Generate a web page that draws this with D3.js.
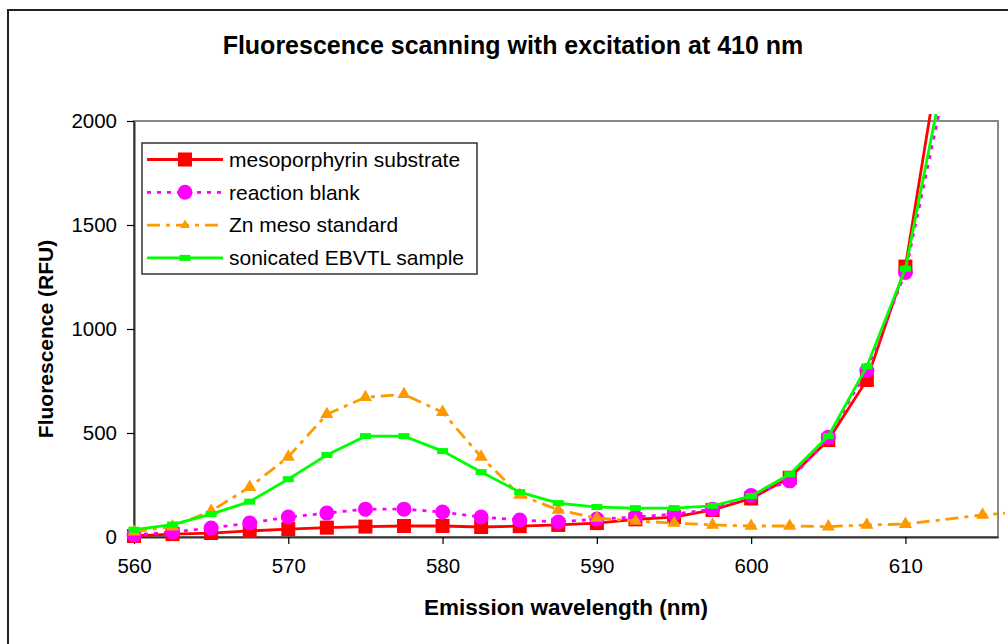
<!DOCTYPE html>
<html>
<head>
<meta charset="utf-8">
<script src="https://cdn.jsdelivr.net/npm/d3@7"></script>
<style>
  body { margin: 0; background: #fff; }
  svg { display: block; font-family: "Liberation Sans", Arial, sans-serif; }
</style>
</head>
<body>
<svg id="chart" width="1008" height="644"></svg>
<script>
"use strict";

// wavelengths (nm), 2.5 nm steps
const wavelengths = [560, 562.5, 565, 567.5, 570, 572.5, 575, 577.5, 580, 582.5, 585, 587.5, 590,
   592.5, 595, 597.5, 600, 602.5, 605, 607.5, 610, 612.5, 615, 617.5, 620]

const meso_substrate = [5, 14, 19, 29, 38, 45, 50, 53, 53, 48, 52, 58, 67,
   85, 96, 130, 185, 285, 466, 755, 1300, 2440, null, null, null]
const reaction_blank = [10, 24, 43, 67, 96, 115, 134, 134, 120, 96, 82, 72, 86,
   96, 110, 134, 200, 270, 480, 800, 1272, 2150, null, null, null]
const zn_meso_standard = [25, 50, 125, 240, 385, 590, 672, 686, 600, 385, 202, 130, 91,
   77, 67, 58, 53, 53, 50, 58, 62, null, 106, null, 135]
const ebvtl_sample = [35, 60, 110, 170, 278, 394, 485, 485, 413, 312, 216, 163, 144,
   139, 139, 150, 197, 302, 485, 820, 1290, 2230, null, null, null]

const series_names = ['mesoporphyrin substrate', 'reaction blank', 'Zn meso standard', 'sonicated EBVTL sample']
const x_ticks = [560, 570, 580, 590, 600, 610]
const y_ticks = [0, 500, 1000, 1500, 2000]

const series = [
   { name: series_names[0], values: meso_substrate, color: '#ff0000', dash: null, marker: 'square' },
   { name: series_names[1], values: reaction_blank, color: '#ff00ff', dash: '4,6', marker: 'circle' },
   { name: series_names[2], values: zn_meso_standard, color: '#ff9900', dash: '13,6,4,6', marker: 'triangle' },
   { name: series_names[3], values: ebvtl_sample, color: '#00ff00', dash: null, marker: 'dash' }
]

const margin = { left: 134, right: 998, top: 121, bottom: 537 }

const x = d3.scaleLinear().domain([560, 616]).range([margin.left, margin.right])
const y = d3.scaleLinear().domain([0, 2000]).range([margin.bottom, margin.top])

const svg = d3.select('#chart')

// outer chart frame (runs off the picture at right and bottom)
svg.append('rect')
   .attr('x', 8).attr('y', 10)
   .attr('width', 1100).attr('height', 700)
   .attr('fill', '#fff')
   .attr('stroke', '#222')
   .attr('stroke-width', 2)

// plot area border
svg.append('rect')
   .attr('x', margin.left).attr('y', margin.top)
   .attr('width', margin.right - margin.left)
   .attr('height', margin.bottom - margin.top)
   .attr('fill', '#fff')
   .attr('stroke', '#888')
   .attr('stroke-width', 2)

// axes
let x_axis = svg.append('g')
   .attr('transform', `translate(0, ${margin.bottom})`)
   .call(d3.axisBottom(x).tickValues(x_ticks).tickSize(7).tickSizeOuter(0).tickPadding(14))
let y_axis = svg.append('g')
   .attr('transform', `translate(${margin.left}, 0)`)
   .call(d3.axisLeft(y).tickValues(y_ticks).tickFormat(d3.format('d'))
      .tickSize(7).tickSizeOuter(0).tickPadding(10))

for (const ax of [x_axis, y_axis]) {
   ax.select('.domain').attr('stroke', '#333').attr('stroke-width', 2)
   ax.selectAll('.tick line').attr('stroke', '#000').attr('stroke-width', 1.2)
   ax.selectAll('.tick text')
      .attr('fill', '#000')
      .style('font-size', '20.5px')
      .style('font-family', '"Liberation Sans", Arial, sans-serif')
}

// series, clipped a little outside the plot like the original
svg.append('clipPath').attr('id', 'clip')
   .append('rect')
   .attr('x', margin.left - 10).attr('y', margin.top - 7)
   .attr('width', margin.right - margin.left + 17)
   .attr('height', margin.bottom - margin.top + 20)

const plot = svg.append('g').attr('clip-path', 'url(#clip)')

const line = d3.line()
   .x(d => x(d[0]))
   .y(d => y(d[1]))

function draw_marker(sel, kind, color, scale) {
   const k = scale || 1
   if (kind === 'square') {
      sel.append('rect')
         .attr('x', -7 * k).attr('y', -7 * k)
         .attr('width', 14 * k).attr('height', 14 * k)
         .attr('fill', color)
   } else if (kind === 'circle') {
      sel.append('circle').attr('r', 7.5 * k).attr('fill', color)
   } else if (kind === 'triangle') {
      sel.append('path')
         .attr('d', d3.symbol().type(d3.symbolTriangle).size(75 * k * k))
         .attr('fill', color)
   } else {
      sel.append('rect')
         .attr('x', -5.5 * k).attr('y', -3 * k)
         .attr('width', 11 * k).attr('height', 6 * k)
         .attr('fill', color)
   }
}

series.forEach(s => {
   const pts = wavelengths.map((w, i) => [w, s.values[i]]).filter(p => p[1] != null)
   plot.append('path')
      .datum(pts)
      .attr('fill', 'none')
      .attr('stroke', s.color)
      .attr('stroke-width', 2.8)
      .attr('stroke-dasharray', s.dash)
      .attr('d', line)
   plot.selectAll(null)
      .data(pts.filter(p => p[1] <= 2000 && p[0] <= 616))
      .enter().append('g')
         .attr('transform', p => `translate(${x(p[0])}, ${y(p[1])})`)
         .each(function () { draw_marker(d3.select(this), s.marker, s.color) })
})

// legend
const legend = svg.append('g').attr('transform', 'translate(142, 143)')
legend.append('rect')
   .attr('width', 335).attr('height', 131)
   .attr('fill', '#fff')
   .attr('stroke', '#333')
   .attr('stroke-width', 1.5)

const legend_row = legend.selectAll('g.row')
   .data(series)
   .enter().append('g')
      .attr('class', 'row')
      .attr('transform', (d, i) => `translate(0, ${16.5 + i * 32.8})`)
legend_row.append('line')
   .attr('x1', 5).attr('x2', 81)
   .attr('stroke', d => d.color)
   .attr('stroke-width', 2.8)
   .attr('stroke-dasharray', d => d.dash)
legend_row.each(function (d) {
   const g = d3.select(this).append('g').attr('transform', 'translate(43, 0)')
   draw_marker(g, d.marker, d.color, d.marker === 'triangle' ? 0.75 : 1)
})
legend_row.append('text')
   .attr('x', 87)
   .attr('dy', '0.35em')
   .style('font-size', '21px')
   .text(d => d.name)

// titles
svg.append('text')
   .attr('x', 513).attr('y', 54)
   .attr('text-anchor', 'middle')
   .style('font-size', '25px')
   .style('font-weight', 'bold')
   .text('Fluorescence scanning with excitation at 410 nm')

svg.append('text')
   .attr('x', (margin.left + margin.right) / 2).attr('y', 615)
   .attr('text-anchor', 'middle')
   .style('font-size', '22.5px')
   .style('font-weight', 'bold')
   .text('Emission wavelength (nm)')

svg.append('text')
   .attr('transform', `translate(53, ${(margin.top + margin.bottom) / 2 + 10}) rotate(-90)`)
   .attr('text-anchor', 'middle')
   .style('font-size', '21px')
   .style('font-weight', 'bold')
   .text('Fluorescence (RFU)')
</script>
</body>
</html>
